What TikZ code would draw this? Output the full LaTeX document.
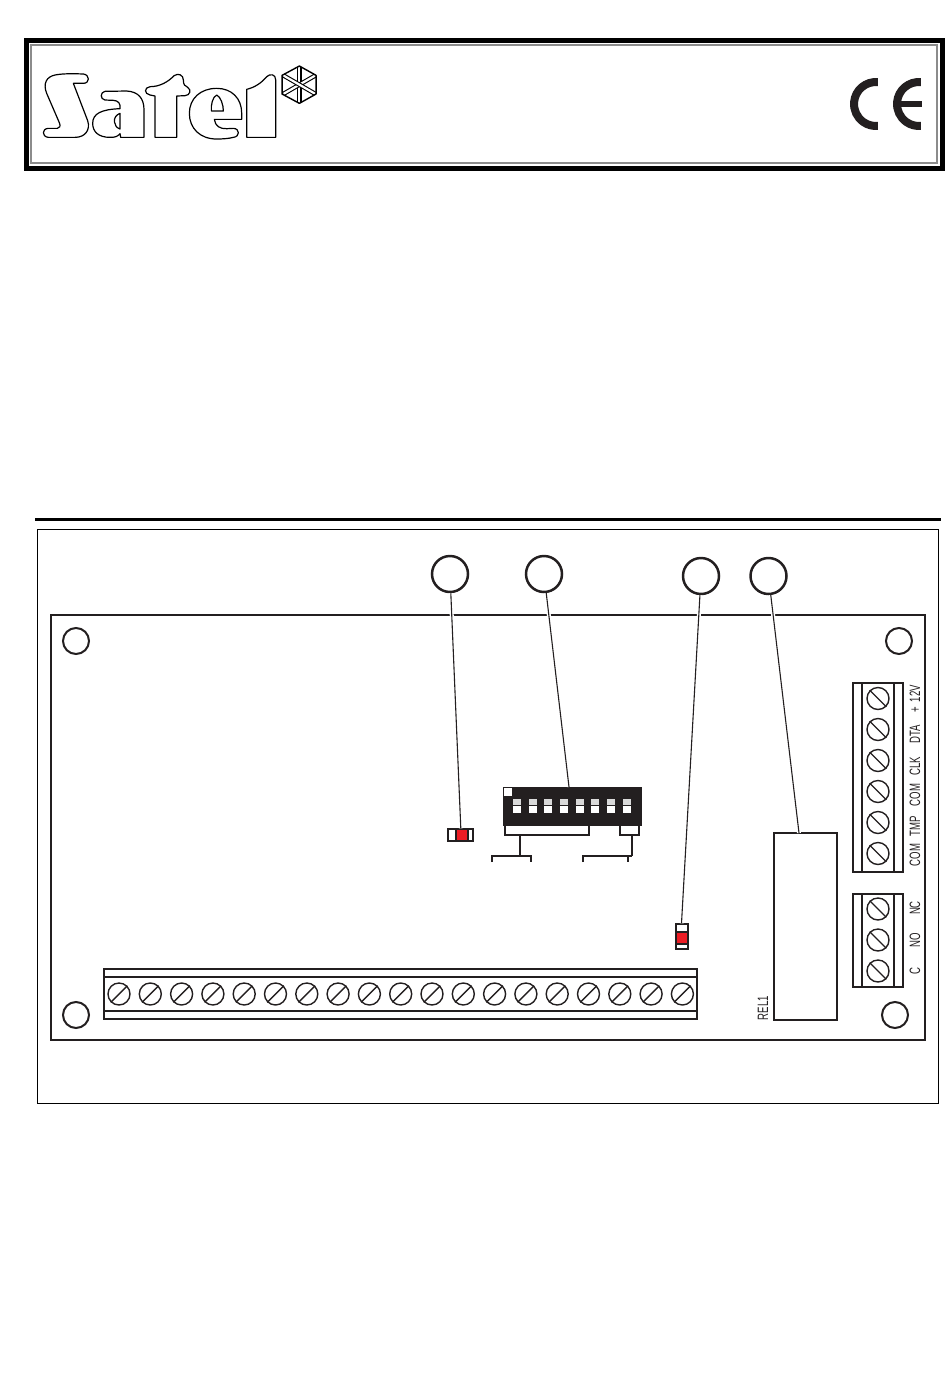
\documentclass[tikz,border=0pt]{standalone}
\usepackage{fontspec}
\usepackage{tikz}
\usetikzlibrary{positioning}
\usetikzlibrary{shapes}
\newfontfamily\narrowfont[FakeStretch=0.64]{Liberation Sans}
\definecolor{ink}{HTML}{231F20}
\definecolor{ledred}{HTML}{ED1C24}
\tikzset{
  callout/.style={draw=ink,circle,line width=1.25pt,minimum size=18pt,inner sep=0pt},
  hole/.style={draw=ink,circle,line width=1pt,minimum size=13pt,inner sep=0pt},
  screw/.style={draw=ink,circle,line width=.7pt,minimum size=11pt,inner sep=0pt},
  part/.style={draw=ink,line width=1pt,inner sep=0pt},
  leader/.style={draw=ink,line width=.55pt,preaction={draw=white,line width=2pt}},
  bracket/.style={draw=ink,line width=1pt},
  pinlabel/.style={rotate=90,inner sep=0pt,text=ink,font=\narrowfont\fontsize{7.5}{7.5}\selectfont},
  logoline/.style={draw=black,line width=.6pt,line join=round},
}
\begin{document}
\begin{tikzpicture}[x=.5pt,y=-.5pt]
    \useasboundingbox (0,0) rectangle (950,1398);

    % header frame
    \node (frame) [draw=black,line width=2.7pt,minimum width=457.8pt,minimum height=63.8pt,inner sep=0pt] at (484.5,104.5) {};
    \node (framein) [draw=black!45,line width=.6pt,minimum width=453pt,minimum height=59pt,inner sep=0pt] at (484,104) {};

    % logo
    \begin{scope}[shift={(20,30)},x=.1667pt,y=-.1667pt]
      \draw[logoline] (105,135) .. controls (130,130) and (165,131) .. (190,132) .. controls (210,134) and (210,160) .. (190,160) -- (160,160) -- (203,272) .. controls (212,300) and (195,322) .. (165,322) -- (85,322) .. controls (65,320) and (65,296) .. (85,295) -- (112,295) .. controls (120,294) and (122,288) .. (118,278) -- (80,190) .. controls (68,160) and (80,140) .. (105,135) -- cycle;
      \draw[logoline] (255,184) -- (320,183) .. controls (355,185) and (372,205) .. (372,240) -- (372,322) -- (302,322) -- (300,311) .. controls (292,320) and (285,322) .. (270,322) .. controls (235,322) and (218,305) .. (218,280) .. controls (218,250) and (245,238) .. (300,236) .. controls (302,220) and (295,212) .. (280,211) -- (255,210) .. controls (240,208) and (240,186) .. (255,184) -- cycle;
      \draw[logoline] (300,250) .. controls (288,254) and (282,265) .. (283,275) .. controls (284,285) and (290,294) .. (300,297) -- cycle;
      \draw[logoline] (390,170) .. controls (420,170) and (445,155) .. (462,137) .. controls (475,128) and (490,135) .. (490,150) .. controls (490,165) and (495,168) .. (503,172) .. controls (515,180) and (510,196) .. (495,197) -- (470,198) -- (470,322) -- (405,322) -- (405,198) -- (390,195) .. controls (372,192) and (372,172) .. (390,170) -- cycle;
      \draw[logoline] (590,175) .. controls (635,175) and (665,205) .. (665,250) -- (665,268) -- (583,268) .. controls (585,288) and (600,297) .. (620,296) -- (640,295) .. controls (660,296) and (660,320) .. (640,322) .. controls (625,326) and (605,327) .. (590,327) .. controls (540,327) and (508,295) .. (508,250) .. controls (508,205) and (542,175) .. (590,175) -- cycle;
      \draw[logoline] (590,195) .. controls (578,200) and (572,225) .. (574,243) -- (610,243) .. controls (610,225) and (602,200) .. (590,195) -- cycle;
      \draw[logoline] (680,322) -- (680,178) .. controls (705,172) and (725,158) .. (740,140) .. controls (750,130) and (767,132) .. (767,150) -- (767,322) -- cycle;
      % star
      \foreach \a in {90,150,210}
        \draw[line width=.55pt,double=white,double distance=1.1pt] (838,164) ++(\a:-54) -- ++(\a:108);
      \draw[logoline,line width=.7pt] (838,108) -- (888,136) -- (888,192) -- (838,220) -- (786,192) -- (786,136) -- cycle;
    \end{scope}

    % CE mark
    \draw[ink,line width=4pt] (876,104) ++(275:22) arc[start angle=275,end angle=85,radius=22];
    \draw[ink,line width=4pt] (919,104) ++(275:22) arc[start angle=275,end angle=85,radius=22];
    \node (cebar) [fill=ink,minimum width=12.5pt,minimum height=3pt,inner sep=0pt] at (909.5,104) {};

    % rule and outer box
    \node (rule) [fill=black,minimum width=453pt,minimum height=1.5pt,inner sep=0pt] at (488,519) {};
    \node (box) [draw=black,line width=.5pt,minimum width=450.5pt,minimum height=287pt,inner sep=0pt] at (487.5,816) {};

    % board
    \node (board) [part,line width=1.2pt,minimum width=437pt,minimum height=212.5pt] at (488,827.5) {};
    \node (h1) [hole] at (76,641) {};
    \node (h2) [hole] at (899,641) {};
    \node (h3) [hole] at (76,1015) {};
    \node (h4) [hole] at (895,1015) {};

    % callouts
    \node (c1) [callout] at (450,574) {};
    \node (c2) [callout] at (544,574) {};
    \node (c3) [callout] at (701,576) {};
    \node (c4) [callout] at (768.5,576) {};

    % leds
    \node (led1) [part,minimum width=12.5pt,minimum height=6pt] at (460.8,835.3) {};
    \node (led1r) [part,fill=ledred,minimum width=6pt,minimum height=6pt] at (461.5,835.3) {};
    \node (led2) [part,minimum width=6pt,minimum height=12.5pt] at (681.5,936.8) {};
    \node (led2r) [part,fill=ledred,minimum width=6pt,minimum height=6pt] at (681.5,937.7) {};

    % dip switch
    \node (dip) [fill=ink,minimum width=69.5pt,minimum height=19.3pt,inner sep=0pt] at (572.5,806.3) {};
    \node (pin1) [fill=white,minimum size=4pt,inner sep=0pt] at (508,792) {};
    \foreach \i in {0,...,7}{
      \node (swa\i) [fill=black!15,minimum width=4pt,minimum height=3pt,inner sep=0pt] at (517+15.65*\i,802) {};
      \node (swb\i) [fill=white,minimum width=4pt,minimum height=3.5pt,inner sep=0pt] at (517+15.65*\i,809.2) {};
    }
    \coordinate (dipin) at (569,787);
    \coordinate (br1a) at (504.7,825);
    \coordinate (br1b) at (589,825);
    \coordinate (br2a) at (620,825);
    \coordinate (br2b) at (639,825);
    \coordinate (st1) at (520,835);
    \coordinate (st2) at (632,835);
    \draw[bracket] (br1a) |- (st1) -| (br1b);
    \draw[bracket] (br2a) |- (st2) -| (br2b);
    \draw[bracket] (st1) -- ++(0,21) coordinate (j1);
    \draw[bracket] (st2) -- ++(0,21) coordinate (j2);
    \draw[bracket] (492,862) -- (492,856) -- (j1) -- (531,856) -- (531,862);
    \draw[bracket] (583,862) -- (583,856) -- (j2);
    \draw[bracket] (628,856) -- (628,862);

    % relay
    \node (rel) [part,minimum width=31.5pt,minimum height=93.5pt] at (805.5,926.5) {};
    \node (rellab) [pinlabel] at (763,1008) {REL1};
    \coordinate (relin) at (799,833);

    % leaders
    \path [leader] (c1) -- (led1.north);
    \path [leader] (c2) -- (dipin);
    \path [leader] (c3) -- (led2.north);
    \path [leader] (c4) -- (relin);

    % long terminal block
    \node (tb1) [part,minimum width=296.5pt,minimum height=25pt] at (400.5,994) {};
    \draw[part] (tb1.north west) ++(0,9) -- ++(593,0);
    \draw[part] (tb1.south west) ++(0,-9) -- ++(593,0);
    \foreach \i in {0,...,18}{
      \node (a\i) [screw] at (119+31.3*\i,994) {};
      \draw[ink,line width=.7pt] (a\i.225) -- (a\i.45);
    }

    % right terminal blocks
    \node (tb2) [part,minimum width=25.3pt,minimum height=94.5pt] at (878,777.5) {};
    \draw[part] (862,683) -- (862,872);
    \draw[part] (893.5,683) -- (893.5,872);
    \foreach \i in {0,...,5}{
      \node (b\i) [screw] at (878,698.5+31*\i) {};
      \draw[ink,line width=.7pt] (b\i.135) -- (b\i.315);
    }
    \node (tb3) [part,minimum width=25.3pt,minimum height=46.5pt] at (878,940.5) {};
    \draw[part] (862,894) -- (862,987);
    \draw[part] (893.5,894) -- (893.5,987);
    \foreach \i in {0,1,2}{
      \node (d\i) [screw] at (878,909+31*\i) {};
      \draw[ink,line width=.7pt] (d\i.135) -- (d\i.315);
    }

    % pin labels
    \node (l1) [pinlabel] at (915,855) {COM};
    \node (l2) [pinlabel] at (915,826) {TMP};
    \node (l3) [pinlabel] at (915,795) {COM};
    \node (l4) [pinlabel] at (915,766) {CLK};
    \node (l5) [pinlabel] at (915,734) {DTA};
    \node (l6) [pinlabel] at (915,699) {+\,\,12V};
    \node (l7) [pinlabel] at (915,908) {NC};
    \node (l8) [pinlabel] at (915,940) {NO};
    \node (l9) [pinlabel] at (915,971) {C};
\end{tikzpicture}
\end{document}
